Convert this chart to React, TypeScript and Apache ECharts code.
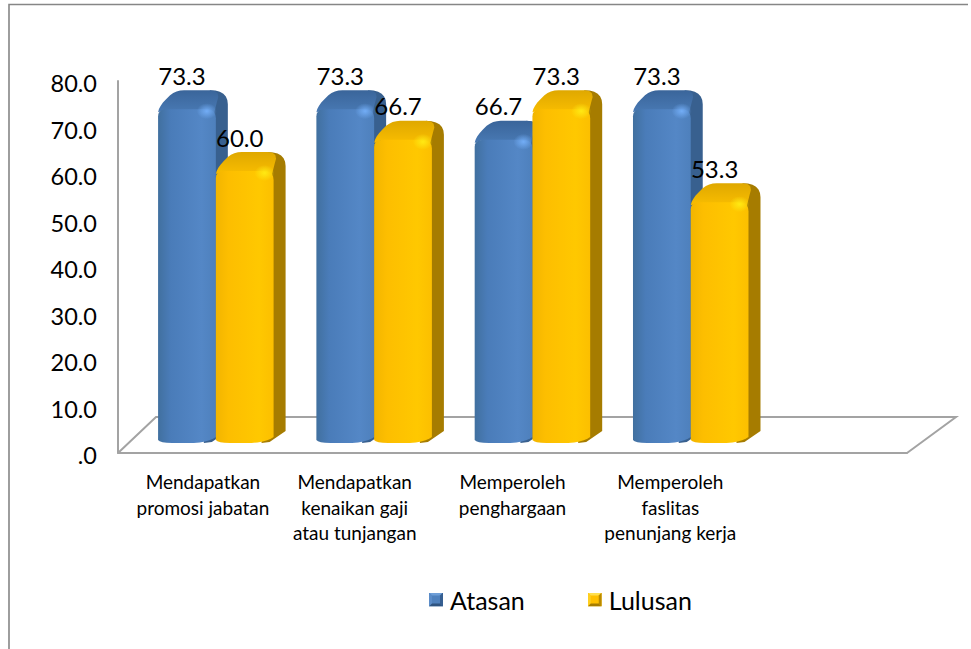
import React, { useEffect, useRef } from "react";
import * as echarts from "echarts";

const categories = [
  "Mendapatkan\npromosi jabatan",
  "Mendapatkan\nkenaikan gaji\natau tunjangan",
  "Memperoleh\npenghargaan",
  "Memperoleh\nfaslitas\npenunjang kerja",
  "",
];
const atasan = [73.3, 73.3, 66.7, 73.3];
const lulusan = [60.0, 66.7, 73.3, 53.3];
const FONT = "Lato, Carlito, sans-serif";

const BLUE = { side: "#38608f", topA: "#3a659a", topB: "#4a7bb6", f0: "#41709f", f1: "#4a7cb9", f2: "#5487c6", f3: "#4e80bc", hi: "rgba(120,180,255,0.85)", hiEnd: "rgba(120,180,255,0)" };
const GOLD = { side: "#a67c00", topA: "#dfa800", topB: "#fbbf00", f0: "#f2b500", f1: "#fdbe00", f2: "#ffc800", f3: "#fcbf00", hi: "rgba(255,235,20,0.95)", hiEnd: "rgba(255,235,20,0)" };

const iconSvg = (a: string, b: string, c: string, d: string, e: string) =>
  "image://data:image/svg+xml;utf8," +
  encodeURIComponent(
    `<svg xmlns='http://www.w3.org/2000/svg' width='14' height='14'><rect width='14' height='14' fill='${e}'/><polygon points='0,0 14,0 11,3 3,3' fill='${a}'/><polygon points='0,0 3,3 3,11 0,14' fill='${b}'/><polygon points='14,0 14,14 11,11 11,3' fill='${c}'/><polygon points='0,14 14,14 11,11 3,11' fill='${d}'/></svg>`
  );

function corner(p0: number[], c: number[], p1: number[], n = 6) {
  const out: number[][] = [];
  for (let i = 0; i <= n; i++) {
    const t = i / n;
    const u = 1 - t;
    out.push([u * u * p0[0] + 2 * u * t * c[0] + t * t * p1[0], u * u * p0[1] + 2 * u * t * c[1] + t * t * p1[1]]);
  }
  return out;
}

function makeBar(seriesIndex: number, pal: typeof BLUE) {
  return (params: any, api: any) => {
    const idx = api.value(0);
    const val = api.value(1);
    const slot = api.size([1, 0])[0];
    const w = slot * 0.366;
    const cx = api.coord([idx, 0])[0] + idx * 0.5;
    const x0 = cx + slot * 0.12 - (seriesIndex === 0 ? w : 0);
    const x1 = x0 + w;
    const yBack = api.coord([idx, val])[1] - 22;
    const yBase = api.coord([idx, 0])[1] - 10;
    const xR = x1 + 12;
    const yFront = yBack + 20;

    const side = [
      ...corner([x1 - 6, yBack], [xR, yBack], [xR, yBack + 14]),
      [xR, yBase - 12],
      [x1 - 4, yBase - 1],
      [x1 - 12, yBase],
      [x1 - 6, yFront],
    ];
    const top = [
      ...corner([x0, yFront + 2], [x0 + 1, yFront - 4], [x0 + 8, yFront - 11], 4),
      ...corner([x0 + 12, yBack + 5], [x0 + 18, yBack], [x0 + 26, yBack], 4),
      [x1 - 6, yBack],
      ...corner([x1 - 6, yBack], [x1 + 6, yBack], [x1 + 1, yBack + 12], 4),
      [x1 - 2, yFront + 4],
      [x0 + 6, yFront],
    ];
    const front = [
      ...corner([x0, yFront + 6], [x0, yFront - 1], [x0 + 9, yFront - 1], 5),
      ...corner([x1 - 10, yFront - 1], [x1, yFront - 1], [x1, yFront + 8], 5),
      [x1, yBase - 6],
      ...corner([x1, yBase - 6], [x1 - 6, yBase - 1], [x1 - 22, yBase], 5),
      [x0 + 14, yBase],
      ...corner([x0 + 14, yBase], [x0 + 2, yBase], [x0, yBase - 3], 4),
    ];
    const hLin = new echarts.graphic.LinearGradient(0, 0, 1, 0, [
      { offset: 0, color: pal.f0 },
      { offset: 0.22, color: pal.f1 },
      { offset: 0.75, color: pal.f2 },
      { offset: 1, color: pal.f3 },
    ]);
    const topLin = new echarts.graphic.LinearGradient(0, 0, 0, 1, [
      { offset: 0, color: pal.topA },
      { offset: 1, color: pal.topB },
    ]);
    const glow = new echarts.graphic.RadialGradient(0.5, 0.5, 0.5, [
      { offset: 0, color: pal.hi },
      { offset: 1, color: pal.hiEnd },
    ]);
    return {
      type: "group",
      children: [
        { type: "polygon", shape: { points: side }, style: { fill: pal.side } },
        { type: "polygon", shape: { points: top }, style: { fill: topLin } },
        { type: "polygon", shape: { points: front }, style: { fill: hLin } },
        {
          type: "ellipse",
          shape: { cx: x1 - 9, cy: yFront + 1, rx: 10, ry: 8 },
          style: { fill: glow },
        },
        {
          type: "text",
          z2: 100,
          x: (x0 + x1) / 2 - 5,
          y: yBack - 15,
          style: {
            text: val.toFixed(1),
            fill: "#000",
            font: `24px ${FONT}`,
            align: "center",
            verticalAlign: "middle",
          },
        },
      ],
    };
  };
}

function renderFloor(params: any, api: any) {
  const left = params.coordSys.x;
  const right = left + params.coordSys.width;
  const y0 = api.coord([0, 0])[1];
  const back = y0 - 36;
  return {
    type: "polyline",
    silent: true,
    shape: { points: [[left, y0], [left + 38, back], [right + 49, back], [right, y0]] },
    style: { stroke: "#a3a3a3", lineWidth: 2, fill: "none" },
  };
}

export default function App() {
  const ref = useRef<HTMLDivElement>(null);
  useEffect(() => {
    if (!ref.current) return;
    const chart = echarts.init(ref.current, undefined, { renderer: "svg" });
    chart.setOption({
      animation: false,
      backgroundColor: "#ffffff",
      textStyle: { fontFamily: FONT },
      graphic: [
        {
          type: "polyline",
          shape: { points: [[9, 649], [9, 4.5], [968, 4.5]] },
          style: { stroke: "#868686", lineWidth: 1.6, fill: "none" },
        },
      ],
      grid: { left: 118, top: 81, width: 789, height: 372, containLabel: false },
      xAxis: {
        type: "category",
        data: categories.map((c, i) =>
          i === 0 ? { value: c, textStyle: { padding: [0, 0, 0, 12] } } : c
        ),
        boundaryGap: true,
        axisLine: { show: true, lineStyle: { color: "#a3a3a3", width: 2 } },
        axisTick: { show: false },
        axisLabel: {
          interval: 0,
          color: "#000",
          fontFamily: FONT,
          fontSize: 19,
          lineHeight: 25.5,
          margin: 16,
          align: "center",
        },
      },
      yAxis: {
        type: "value",
        min: 0,
        max: 80,
        interval: 10,
        splitLine: { show: false },
        axisTick: { show: false },
        axisLine: { show: true, lineStyle: { color: "#a3a3a3", width: 2 } },
        axisLabel: {
          color: "#000",
          fontFamily: FONT,
          fontSize: 23.5,
          margin: 21,
          verticalAlign: "top",
          lineHeight: 4,
          formatter: (v: number) => (v === 0 ? ".0" : v.toFixed(1)),
        },
      },
      legend: {
        left: 424,
        top: 582,
        itemWidth: 14,
        itemHeight: 14,
        itemGap: 63,
        selectedMode: false,
        textStyle: { fontFamily: FONT, fontSize: 25, color: "#000", padding: [0, 0, 0, 2] },
        data: [
          { name: "Atasan", icon: iconSvg("#6f9fd8", "#5b8cc8", "#365f91", "#2f5480", "#4f81bd") },
          { name: "Lulusan", icon: iconSvg("#ffe050", "#ffcf20", "#b98a00", "#a67c00", "#ffc000") },
        ],
      },
      series: [
        {
          type: "custom",
          name: "floor",
          silent: true,
          z: 1,
          renderItem: renderFloor,
          data: [[0, 0]],
          encode: { x: 0, y: 1 },
        },
        {
          type: "custom",
          name: "Atasan",
          z: 2,
          itemStyle: { color: "#4f81bd" },
          renderItem: makeBar(0, BLUE),
          data: atasan.map((v, i) => [i, v]),
          encode: { x: 0, y: 1 },
        },
        {
          type: "custom",
          name: "Lulusan",
          z: 3,
          itemStyle: { color: "#ffc000" },
          renderItem: makeBar(1, GOLD),
          data: lulusan.map((v, i) => [i, v]),
          encode: { x: 0, y: 1 },
        },
      ],
    });
    return () => chart.dispose();
  }, []);
  return (
    <div
      ref={ref}
      style={{ position: "absolute", left: 0, top: 0, width: 971, height: 649 }}
    />
  );
}
